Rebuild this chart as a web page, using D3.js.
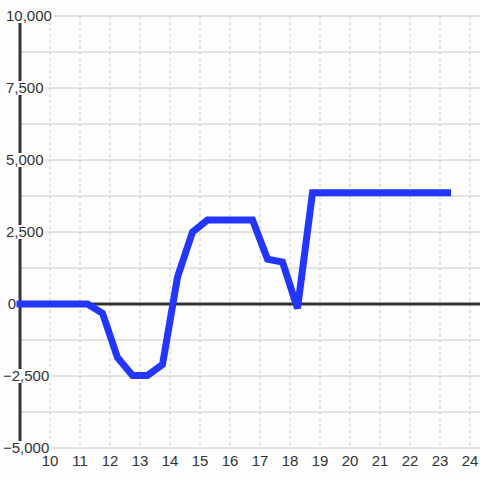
<!DOCTYPE html>
<meta charset="utf-8">
<style>
body { margin: 0; background: #fdfdfd; }
text { font-family: "Liberation Sans", Arial, sans-serif; font-size: 15px; fill: #333; }
</style>
<svg width="480" height="480"></svg>
<script src="https://cdn.jsdelivr.net/npm/d3@7"></script>
<script>

// data
var xValues = [9, 9.25, 9.75, 10.25, 10.75, 11.25, 11.75, 12.25, 12.75, 13.25, 13.75,
               14.25, 14.75, 15.25, 15.75, 16.25, 16.75, 17.25, 17.75, 18.25, 18.75,
               19.25, 19.75, 20.25, 20.75, 21.25, 21.75, 22.25, 22.75, 23.25];
var yValues = [0, 0, 0, 0, 0, 0, -320, -1860, -2480, -2480, -2100,
               930, 2500, 2920, 2920, 2920, 2920, 1560, 1460, -150, 3860,
               3860, 3860, 3860, 3860, 3860, 3860, 3860, 3860, 3860];
var xTicks = [10, 11, 12, 13, 14, 15, 16, 17, 18, 19, 20, 21, 22, 23, 24];
var yTicks = [-5000, -2500, 0, 2500, 5000, 7500, 10000];
var yMinor = [-3750, -1250, 1250, 3750, 6250, 8750];

var svg = d3.select("svg"),
    width = +svg.attr("width"),
    height = +svg.attr("height");

var bg = "#fdfdfd";

var x = d3.scaleLinear().domain([9, 24.3333]).range([20, 480]);
var y = d3.scaleLinear().domain([-5000, 10000]).range([448, 16]);

svg.append("rect").attr("width", width).attr("height", height).attr("fill", bg);

// vertical dotted grid
svg.append("g")
    .selectAll("line")
    .data(xTicks)
    .enter().append("line")
      .attr("x1", function(d) { return x(d); })
      .attr("x2", function(d) { return x(d); })
      .attr("y1", y(10000))
      .attr("y2", y(-5000))
      .attr("stroke", "#c8c8c8")
      .attr("stroke-dasharray", "3,3");

// horizontal grid
svg.append("g")
    .selectAll("line")
    .data(yTicks.concat(yMinor).filter(function(d) { return d !== 0; }))
    .enter().append("line")
      .attr("x1", x(9))
      .attr("x2", width)
      .attr("y1", function(d) { return y(d); })
      .attr("y2", function(d) { return y(d); })
      .attr("stroke", "#c8c8c8");

// zero line and left bar
svg.append("line")
    .attr("x1", x(9)).attr("x2", width)
    .attr("y1", y(0)).attr("y2", y(0))
    .attr("stroke", "#333").attr("stroke-width", 3);

svg.append("line")
    .attr("x1", x(9)).attr("x2", x(9))
    .attr("y1", y(10000)).attr("y2", y(-5000))
    .attr("stroke", "#333").attr("stroke-width", 3);

// y labels with background mask
var fmt = d3.format(",");
var yLab = svg.append("g").selectAll("g")
    .data(yTicks)
    .enter().append("g");

yLab.each(function(d) {
  var g = d3.select(this);
  var r = g.append("rect").attr("fill", bg);
  var t = g.append("text")
      .attr("y", y(d))
      .attr("dy", "0.35em")
      .text(fmt(d));
  var w = t.node().getComputedTextLength();
  var left;
  if (d === 0) left = 12 - w / 2;
  else if (d < 0) left = Math.max(3, 44 - w);
  else left = 6;
  t.attr("x", left);
  r.attr("x", left - 2).attr("y", y(d) - 7)
   .attr("width", w + 4).attr("height", 14);
});

// x labels
svg.append("g")
    .selectAll("text")
    .data(xTicks)
    .enter().append("text")
      .attr("x", function(d) { return x(d); })
      .attr("y", 461)
      .attr("dy", "0.35em")
      .attr("text-anchor", "middle")
      .text(function(d) { return d; });

// series
var line = d3.line()
    .x(function(d, i) { return x(xValues[i]); })
    .y(function(d) { return y(d); });

svg.append("path")
    .datum(yValues)
    .attr("d", line)
    .attr("fill", "none")
    .attr("stroke", "#2236ff")
    .attr("stroke-width", 7)
    .attr("stroke-linecap", "square")
    .attr("stroke-linejoin", "miter");

</script>
